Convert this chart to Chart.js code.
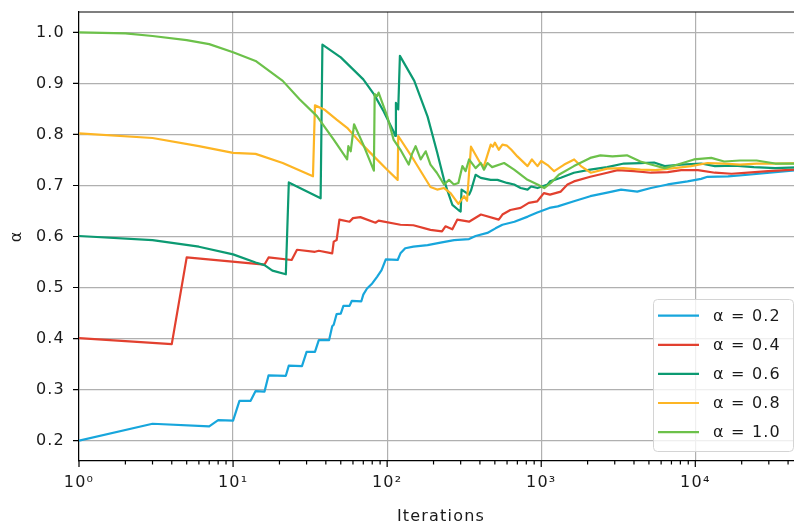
<!DOCTYPE html>
<html>
<head>
<meta charset="utf-8">
<script src="https://cdn.jsdelivr.net/npm/chart.js@4/dist/chart.umd.min.js"></script>
<style>
html,body{margin:0;padding:0;background:#ffffff;overflow:hidden;}
#wrap{position:relative;width:803px;height:526px;}
</style>
</head>
<body>
<div id="wrap"><canvas id="c"></canvas></div>
<script>
// ---- data (iteration, alpha) ----
const seriesLabels = ['α = 0.2', 'α = 0.4', 'α = 0.6', 'α = 0.8', 'α = 1.0'];
const seriesColors = ['#17a6dc', '#e2402f', '#0c9a72', '#fdb524', '#6cc14a'];

const alpha02 = [[1,0.200],[3,0.233],[7,0.228],[8,0.240],[10,0.239],[11,0.278],[13,0.278],[14,0.297],[16,0.296],[17,0.328],[22,0.327],[23,0.347],[28,0.346],[30,0.374],[34,0.374],[36,0.397],[42,0.397],[44,0.424],[45,0.427],[47,0.448],[50,0.449],[52,0.464],[57,0.464],[59,0.474],[68,0.473],[70,0.486],[74,0.498],[80,0.508],[86,0.521],[92,0.534],[98,0.555],[117,0.554],[122,0.567],[131,0.577],[148,0.580],[183,0.583],[222,0.588],[272,0.593],[340,0.595],[375,0.601],[447,0.607],[505,0.616],[560,0.623],[670,0.629],[818,0.639],[943,0.647],[1130,0.656],[1280,0.659],[1630,0.669],[2080,0.679],[2680,0.686],[3300,0.692],[4200,0.688],[5150,0.695],[6620,0.702],[8900,0.708],[10900,0.713],[12000,0.717],[16300,0.718],[22000,0.721],[33000,0.726],[50000,0.731]];

const alpha04 = [[1,0.401],[4,0.389],[5,0.559],[16,0.545],[17,0.559],[24,0.554],[26,0.574],[34,0.570],[36,0.572],[44,0.567],[45,0.590],[47,0.593],[49,0.633],[57,0.629],[60,0.636],[67,0.638],[84,0.627],[88,0.631],[122,0.623],[148,0.622],[191,0.613],[227,0.610],[239,0.620],[265,0.614],[285,0.633],[340,0.629],[406,0.643],[530,0.633],[560,0.643],[630,0.652],[735,0.656],[830,0.666],[943,0.669],[1040,0.685],[1140,0.682],[1340,0.688],[1480,0.702],[1630,0.708],[2080,0.717],[2680,0.725],[3140,0.730],[4000,0.728],[5150,0.725],[6620,0.726],[8100,0.730],[10400,0.730],[13400,0.725],[17200,0.723],[22000,0.725],[29700,0.728],[50000,0.732]];

const alpha06 = [[1,0.601],[3,0.593],[6,0.580],[10,0.565],[14,0.549],[16,0.544],[18,0.533],[22,0.526],[23,0.706],[37,0.675],[38,0.976],[50,0.951],[70,0.908],[82,0.879],[95,0.845],[110,0.806],[113,0.797],[114,0.862],[118,0.849],[121,0.954],[150,0.905],[183,0.835],[211,0.765],[234,0.711],[245,0.692],[265,0.662],[290,0.652],[300,0.649],[304,0.692],[340,0.682],[350,0.690],[375,0.721],[405,0.715],[470,0.711],[520,0.711],[600,0.705],[667,0.702],[735,0.695],[815,0.692],[860,0.698],[946,0.695],[1100,0.702],[1140,0.708],[1340,0.715],[1630,0.725],[2080,0.731],[2680,0.736],[3440,0.743],[4400,0.744],[5400,0.745],[6330,0.738],[8100,0.741],[10900,0.743],[13400,0.738],[18000,0.739],[24000,0.736],[33000,0.734],[50000,0.736]];

const alpha08 = [[1,0.802],[3,0.793],[6,0.777],[10,0.764],[14,0.762],[21,0.744],[33,0.718],[34,0.857],[39,0.849],[47,0.829],[55,0.813],[67,0.784],[82,0.757],[100,0.731],[117,0.711],[118,0.797],[149,0.750],[191,0.697],[211,0.692],[234,0.695],[258,0.685],[290,0.664],[316,0.679],[330,0.670],[350,0.776],[405,0.742],[425,0.738],[448,0.760],[470,0.780],[485,0.776],[500,0.784],[530,0.770],[560,0.780],[600,0.778],[640,0.770],[700,0.757],[815,0.738],[870,0.751],[946,0.738],[1000,0.748],[1100,0.740],[1213,0.728],[1410,0.741],[1636,0.751],[1809,0.738],[2100,0.725],[2680,0.733],[3400,0.734],[4400,0.731],[5500,0.730],[7300,0.734],[9400,0.738],[12000,0.744],[15400,0.743],[19500,0.741],[25000,0.743],[33000,0.743],[50000,0.744]];

const alpha10 = [[1,1.000],[2,0.998],[3,0.993],[5,0.985],[7,0.977],[10,0.961],[14,0.944],[21,0.905],[27,0.869],[35,0.836],[45,0.790],[55,0.751],[56,0.777],[58,0.767],[61,0.820],[70,0.780],[82,0.729],[83,0.879],[86,0.875],[88,0.882],[100,0.836],[110,0.790],[122,0.770],[138,0.741],[145,0.762],[153,0.777],[165,0.751],[178,0.767],[191,0.741],[210,0.725],[234,0.702],[252,0.711],[271,0.702],[290,0.705],[308,0.738],[323,0.728],[340,0.751],[375,0.734],[405,0.744],[425,0.731],[448,0.744],[480,0.736],[574,0.744],[667,0.731],[815,0.711],[946,0.702],[1045,0.695],[1154,0.705],[1300,0.721],[1630,0.738],[2080,0.754],[2420,0.759],[2900,0.757],[3600,0.759],[4400,0.747],[5150,0.741],[6330,0.734],[7700,0.741],[9800,0.751],[12700,0.754],[15400,0.747],[19500,0.749],[25000,0.749],[33000,0.743],[50000,0.743]];

const seriesData = [alpha02, alpha04, alpha06, alpha08, alpha10];

const xMin = 1, xMax = 50000;
const yMin = 0.16, yMax = 1.04;
const yTickValues = [0.2, 0.3, 0.4, 0.5, 0.6, 0.7, 0.8, 0.9, 1.0];
const xMajorTicks = [1, 10, 100, 1000, 10000];
const xTickLabels = ['10⁰', '10¹', '10²', '10³', '10⁴'];
const xTitle = 'Iterations';
const yTitle = 'α';

// minor ticks 2..9 per decade
const xAllTicks = [];
for (const m of xMajorTicks) {
  xAllTicks.push({value: m, major: true});
  for (let k = 2; k <= 9; k++) { if (m * k <= xMax) xAllTicks.push({value: m * k, major: false}); }
}

const FONT = "'DejaVu Sans', sans-serif";
const TXT = '#1a1a1a';

const spacingPlugin = {
  id: 'spacing',
  beforeLayout(chart) { chart.ctx.letterSpacing = '1.2px'; },
  beforeDraw(chart) { chart.ctx.letterSpacing = '1.2px'; }
};

const decoPlugin = {
  id: 'deco',
  afterDraw(chart) {
    const {ctx, chartArea: a, scales} = chart;
    const xs = scales.x, ys = scales.y;
    ctx.save();
    ctx.strokeStyle = '#000000';
    ctx.lineWidth = 1.2;
    ctx.beginPath();
    xs.ticks.forEach(t => {
      const px = xs.getPixelForValue(t.value);
      const len = t.major ? 6 : 3.5;
      ctx.moveTo(px, a.bottom); ctx.lineTo(px, a.bottom + len);
    });
    ys.ticks.forEach(t => {
      const py = ys.getPixelForValue(t.value);
      ctx.moveTo(a.left, py); ctx.lineTo(a.left - 6, py);
    });
    ctx.moveTo(a.left, a.top); ctx.lineTo(a.right + 2, a.top);
    ctx.stroke();

    // legend (lower right, inside axes)
    const rowH = 29.1;
    const bw = 140, bh = 152;
    const bx = a.right - 10 - bw, by = a.bottom - 10 - bh;
    ctx.beginPath();
    ctx.roundRect(bx + 0.5, by + 0.5, bw, bh, 4);
    ctx.fillStyle = 'rgba(255,255,255,0.8)';
    ctx.fill();
    ctx.strokeStyle = '#d4d4d4';
    ctx.lineWidth = 1;
    ctx.stroke();
    ctx.font = '16px ' + FONT;
    ctx.textBaseline = 'middle';
    ctx.textAlign = 'left';
    chart.data.datasets.forEach((ds, i) => {
      const yy = by + 16.7 + i * rowH;
      ctx.beginPath();
      ctx.strokeStyle = ds.borderColor;
      ctx.lineWidth = 2.2;
      ctx.moveTo(bx + 5, yy); ctx.lineTo(bx + 46, yy);
      ctx.stroke();
      ctx.fillStyle = TXT;
      ctx.fillText(ds.label, bx + 60, yy + 1);
    });
    ctx.restore();
  }
};

const datasets = seriesData.map((d, i) => ({
  label: seriesLabels[i],
  data: d.map(p => ({x: p[0], y: p[1]})),
  borderColor: seriesColors[i],
  backgroundColor: seriesColors[i],
  borderWidth: 2.2,
  pointRadius: 0,
  tension: 0,
  fill: false,
  borderJoinStyle: 'round',
  order: -i
}));

new Chart(document.getElementById('c'), {
  type: 'line',
  data: {datasets},
  plugins: [spacingPlugin, decoPlugin],
  options: {
    responsive: true,
    maintainAspectRatio: false,
    animation: false,
    devicePixelRatio: 1,
    layout: {padding: {top: 12, left: 0, right: 0, bottom: 0}},
    plugins: {legend: {display: false}, tooltip: {enabled: false}},
    scales: {
      x: {
        type: 'logarithmic',
        min: xMin, max: xMax,
        afterBuildTicks: s => { s.ticks = xAllTicks.map(t => ({value: t.value, major: t.major})); },
        afterFit: s => { s.height = 65; },
        ticks: {
          autoSkip: false, maxRotation: 0, minRotation: 0,
          padding: 0,
          color: TXT,
          font: {family: FONT, size: 16},
          callback: (v) => { const k = xMajorTicks.indexOf(v); return k >= 0 ? xTickLabels[k] : ''; }
        },
        grid: {
          drawTicks: true,
          tickLength: 12,
          tickColor: 'rgba(0,0,0,0)',
          lineWidth: 1.2,
          color: c => (c.tick && c.tick.major) ? '#b0b0b0' : 'rgba(0,0,0,0)'
        },
        border: {display: true, color: '#000000', width: 1.2},
        title: {display: true, text: xTitle, color: TXT, font: {family: FONT, size: 16, lineHeight: 1}, padding: {top: 0, bottom: 1}}
      },
      y: {
        type: 'linear',
        min: yMin, max: yMax,
        afterBuildTicks: s => { s.ticks = yTickValues.map(v => ({value: v})); },
        afterFit: s => { s.width = 79; },
        ticks: {
          padding: 0,
          color: TXT,
          font: {family: FONT, size: 16},
          callback: v => Number(v).toFixed(1)
        },
        grid: {drawTicks: true, tickLength: 14, tickColor: 'rgba(0,0,0,0)', lineWidth: 1.2, color: '#b0b0b0'},
        border: {display: true, color: '#000000', width: 1.2},
        title: {display: true, text: yTitle, color: TXT, font: {family: FONT, size: 16, lineHeight: 1}, padding: {top: 9, bottom: 0}}
      }
    }
  }
});
</script>
</body>
</html>
